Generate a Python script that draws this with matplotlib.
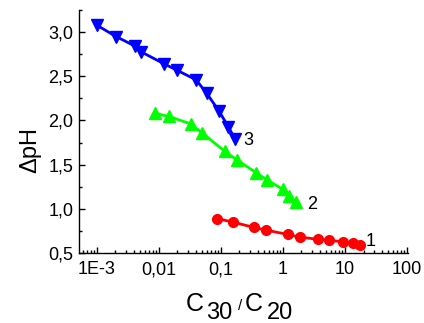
import matplotlib
matplotlib.use("Agg")
import matplotlib.pyplot as plt
from matplotlib.ticker import FixedLocator, FixedFormatter, LogLocator, MultipleLocator, FuncFormatter

plt.rcParams['font.family'] = ['Liberation Sans', 'DejaVu Sans']

# curve 3 (blue, down triangles)
x3 = [0.001, 0.00205, 0.0042, 0.0051, 0.0123, 0.0195, 0.040, 0.059, 0.093, 0.132, 0.17]
y3 = [3.08, 2.95, 2.84, 2.78, 2.64, 2.57, 2.46, 2.31, 2.11, 1.93, 1.79]

# curve 2 (green, up triangles)
x2 = [0.0087, 0.0148, 0.033, 0.050, 0.116, 0.185, 0.37, 0.55, 1.0, 1.27, 1.63]
y2 = [2.08, 2.045, 1.96, 1.86, 1.65, 1.55, 1.41, 1.33, 1.22, 1.14, 1.08]

# curve 1 (red, circles)
x1 = [0.087, 0.156, 0.34, 0.53, 1.2, 1.87, 3.7, 5.6, 9.5, 13.5, 17.3]
y1 = [0.89, 0.85, 0.79, 0.76, 0.71, 0.68, 0.655, 0.645, 0.625, 0.61, 0.595]

xticks = [0.001, 0.01, 0.1, 1, 10, 100]
xtick_labels = ["1E-3", "0,01", "0,1", "1", "10", "100"]
yticks = [0.5, 1.0, 1.5, 2.0, 2.5, 3.0]

W, H = 424, 323
fig = plt.figure(figsize=(W / 100, H / 100), dpi=100)
ax = fig.add_axes([79 / W, 1 - 253 / H, (408 - 79) / W, (253 - 10) / H])

ax.plot(x3, y3, '-v', color='#0000ff', lw=2, ms=8)
ax.plot(x2, y2, '-^', color='#00ff00', lw=2, ms=8)
ax.plot(x1, y1, '-o', color='#ff0000', lw=2, ms=7)

ax.annotate("3", (x3[-1], y3[-1]), xytext=(6, -1), textcoords='offset points',
            fontsize=13, va='center', ha='left')
ax.annotate("2", (x2[-1], y2[-1]), xytext=(8, -2), textcoords='offset points',
            fontsize=13, va='center', ha='left')
ax.annotate("1", (x1[-1], y1[-1]), xytext=(4, 2), textcoords='offset points',
            fontsize=13, va='center', ha='left')

ax.set_xscale('log')
ax.set_xlim(5.2e-4, 104)
ax.set_ylim(0.5, 3.25)

ax.xaxis.set_major_locator(FixedLocator(xticks))
ax.xaxis.set_major_formatter(FixedFormatter(xtick_labels))
ax.xaxis.set_minor_locator(LogLocator(base=10, subs=range(2, 10)))
ax.yaxis.set_major_locator(FixedLocator(yticks))
ax.yaxis.set_minor_locator(MultipleLocator(0.25))
ax.yaxis.set_major_formatter(FuncFormatter(lambda v, p: f"{v:.1f}".replace('.', ',')))

ax.spines['top'].set_visible(False)
ax.spines['right'].set_visible(False)
for s in ('left', 'bottom'):
    ax.spines[s].set_linewidth(1.0)
ax.tick_params(which='both', direction='in', labelsize=13, width=1.0)
ax.tick_params(which='major', length=4)
ax.tick_params(which='minor', length=2.5)
ax.tick_params(axis='x', which='major', pad=6)
ax.tick_params(axis='y', which='major', pad=4)

# axis labels
fig.text(30 / W, 1 - 150 / H, "ΔpH", rotation=90, fontsize=17, ha='center', va='center')
fig.text(186 / W, 1 - 311 / H, "C", fontsize=18, ha='left', va='baseline')
fig.text(206 / W, 1 - 319 / H, "30", fontsize=17, ha='left', va='baseline')
fig.text(238 / W, 1 - 310 / H, "/", fontsize=11, ha='left', va='baseline')
fig.text(245 / W, 1 - 311 / H, "C", fontsize=18, ha='left', va='baseline')
fig.text(267 / W, 1 - 319 / H, "20", fontsize=17, ha='left', va='baseline')

fig.savefig("out.png", dpi=100)
